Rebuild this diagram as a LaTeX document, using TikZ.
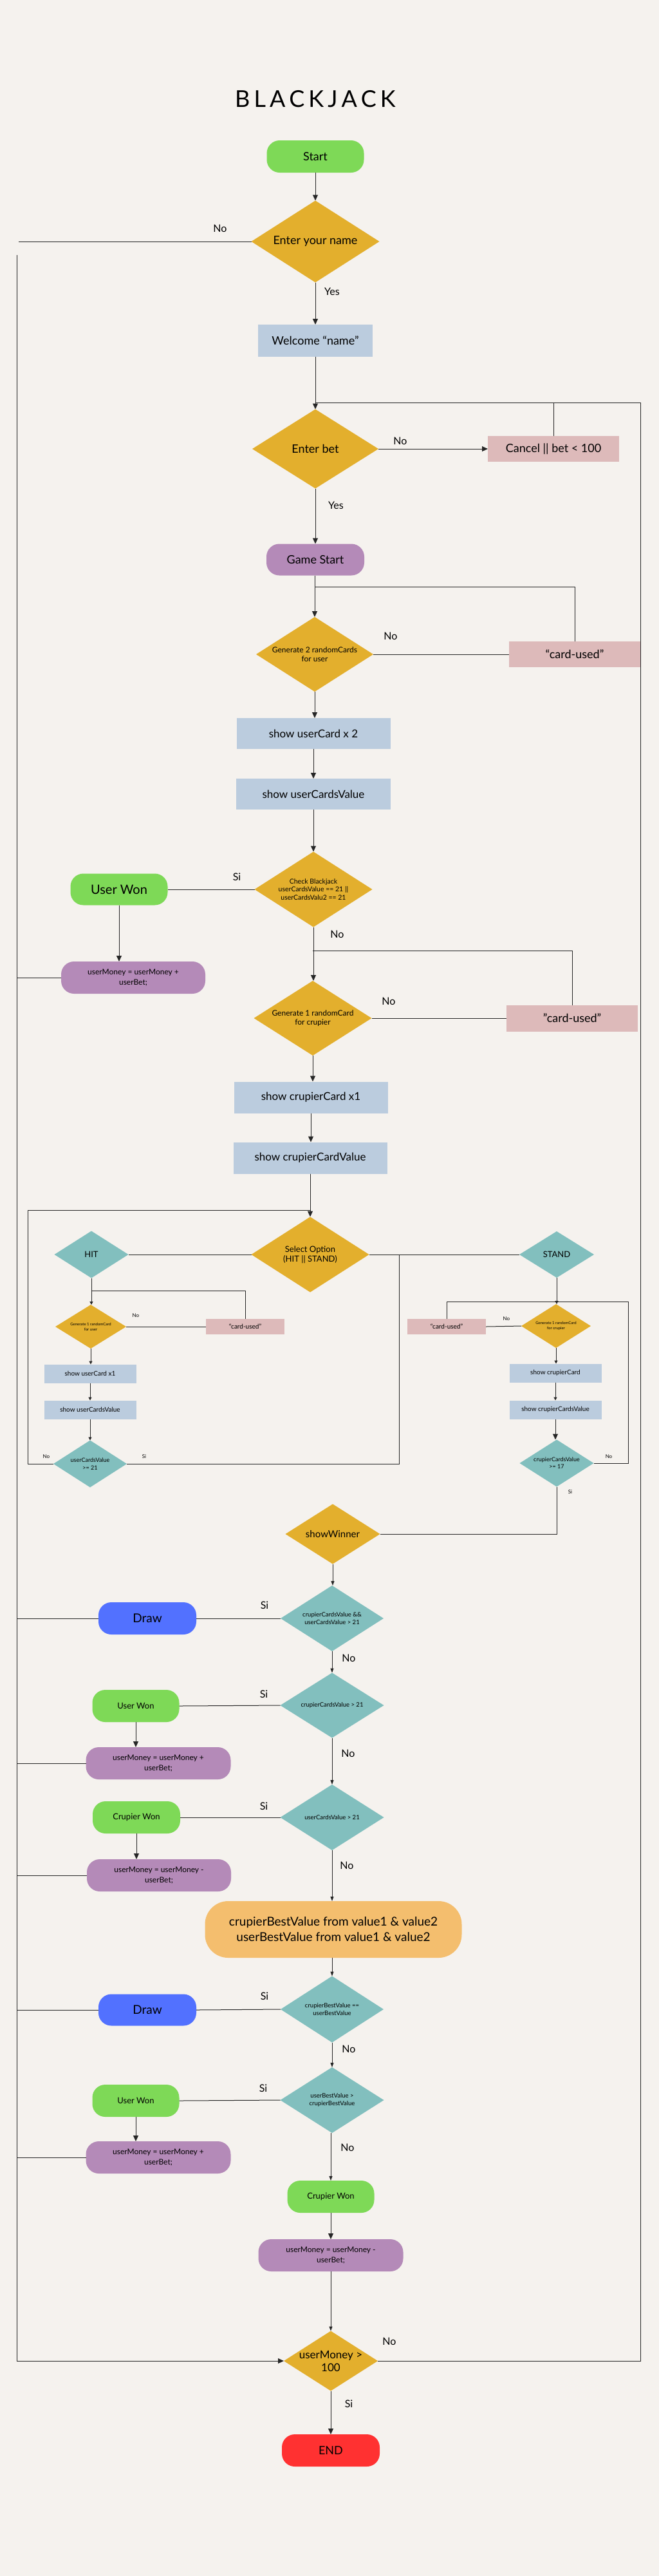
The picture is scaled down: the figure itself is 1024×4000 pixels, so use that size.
\documentclass[tikz,border=0pt]{standalone}
\usepackage{fontspec}
\setmainfont{Lato}
\usetikzlibrary{shapes.geometric,arrows.meta}
\definecolor{bgc}{HTML}{F5F2EE}
\definecolor{ylw}{HTML}{E3AF2D}
\definecolor{grn}{HTML}{7ED957}
\definecolor{lblue}{HTML}{BBCCDE}
\definecolor{pnk}{HTML}{DDBABA}
\definecolor{prp}{HTML}{B48AB8}
\definecolor{tea}{HTML}{82BFBE}
\definecolor{drw}{HTML}{5271FF}
\definecolor{org}{HTML}{F4BE6E}
\definecolor{rd}{HTML}{FF3131}
\begin{document}
\begin{tikzpicture}[x=1pt,y=-1pt,
 fz/.style args={#1/#2}{font=\fontsize{#1}{#2}\selectfont},
 dia/.style={diamond, draw=none, inner sep=0pt, outer sep=0pt},
 box/.style={rectangle, inner sep=0pt, outer sep=0pt, align=center, fill=lblue},
 stad/.style={rectangle, rounded corners=20pt, inner sep=0pt, outer sep=0pt, align=center},
 txt/.style={inner sep=0pt, align=center, text=black},
 ln/.style={line width=1pt, draw=black!85},
 arr/.style={ln, -{Triangle[width=8pt,length=9pt]}},
 arrm/.style={ln, -{Triangle[width=5pt,length=7pt]}},
 arrs/.style={ln, -{Triangle[width=5pt,length=5pt]}},
 lbl/.style={fz=16/19, inner sep=0pt},
 lbls/.style={fz=8/10, inner sep=0pt},
 wh/.style args={#1/#2}{minimum width=#1pt, minimum height=#2pt},
]
\fill[bgc] (0,0) rectangle (1024,4000);
\node[fz=36/40] (title) at (490,154) {B\kern6pt L\kern6pt A\kern6pt C\kern6pt K\kern6pt J\kern6pt A\kern6pt C\kern6pt K};

% ---------- top column ----------
\node[stad, fill=grn, wh=151/50, fz=18/22] (start) at (490,243) {Start};
\node[dia, fill=ylw, wh=199/127] (name) at (490,375) {};
\node[txt, fz=18/22] (name-t) at (name) {Enter your name};
\node[box, wh=178/50, fz=18/22] (welcome) at (490,529) {Welcome “name”};
\node[dia, fill=ylw, wh=196/123] (bet) at (490,697) {};
\node[txt, fz=18/22] (bet-t) at (bet) {Enter bet};
\node[box, fill=pnk, wh=204/40, fz=18/22] (cancel) at (860,697) {Cancel || bet < 100};
\node[stad, fill=prp, wh=152/49, fz=18/22] (gstart) at (490,869) {Game Start};
\node[dia, fill=ylw, wh=182/116] (gen2) at (489,1016) {};
\node[txt, fz=12/14] (gen2-t) at (gen2) {Generate 2 randomCards\\for user};
\node[box, fill=pnk, wh=204/40, fz=18/22] (used1) at (893,1016) {“card-used”};
\node[box, wh=239/48, fz=17/20] (suc2) at (487,1139) {show userCard x 2};
\node[box, wh=240/48, fz=17/20] (suv) at (487,1233) {show userCardsValue};
\node[dia, fill=ylw, wh=183/117] (chk) at (487,1381) {};
\node[txt, fz=10.5/12.5] (chk-t) at (chk) {Check Blackjack\\userCardsValue == 21 ||\\userCardsValu2 == 21};
\node[stad, fill=grn, wh=151/49, fz=20/24] (uw1) at (185,1381) {User Won};
\node[stad, fill=prp, wh=224/50, fz=12/16] (um1) at (207,1518) {userMoney = userMoney +\\userBet;};
\node[dia, fill=ylw, wh=183/116] (gen1c) at (486,1581) {};
\node[txt, fz=12/14] (gen1c-t) at (gen1c) {Generate 1 randomCard\\for crupier};
\node[box, fill=pnk, wh=204/41, fz=18/22] (used2) at (889,1581) {"card-used"};
\node[box, wh=239/49, fz=17/20] (scc) at (483,1704) {show crupierCard x1};
\node[box, wh=239/49, fz=17/20] (sccv) at (482,1798) {show crupierCardValue};
\node[dia, fill=ylw, wh=183/117] (sel) at (482,1948) {};
\node[txt, fz=13/15] (sel-t) at (sel) {Select Option\\(HIT || STAND)};

% ---------- HIT branch ----------
\node[dia, fill=tea, wh=115/73] (hit) at (142,1948) {};
\node[txt, fz=13/15] (hit-t) at (hit) {HIT};
\node[dia, fill=ylw, wh=110/68] (gen1u) at (141,2060) {};
\node[txt, fz=6/8] (gen1u-t) at (gen1u) {Generate 1 randomCard\\for user};
\node[box, fill=pnk, wh=122/24, fz=10/12] (used3) at (381,2060) {“card-used”};
\node[box, wh=143/29, fz=10/12] (suc1) at (140,2133) {show userCard x1};
\node[box, wh=143/29, fz=10/12] (suv2) at (140,2189) {show userCardsValue};
\node[dia, fill=tea, wh=114/73] (ucv) at (140,2273) {};
\node[txt, fz=9/11.5] (ucv-t) at (ucv) {userCardsValue\\>= 21};

% ---------- STAND branch ----------
\node[dia, fill=tea, wh=116/72] (stand) at (865,1948) {};
\node[txt, fz=13/15] (stand-t) at (stand) {STAND};
\node[dia, fill=ylw, wh=108/68] (gen1c2) at (864,2059) {};
\node[txt, fz=6/8] (gen1c2-t) at (gen1c2) {Generate 1 randomCard\\for crupier};
\node[box, fill=pnk, wh=122/24, fz=10/12] (used4) at (694,2060) {“card-used”};
\node[box, wh=143/29, fz=10/12] (scc2) at (863,2132) {show crupierCard};
\node[box, wh=143/29, fz=10/12] (sccv2) at (863,2189) {show crupierCardsValue};
\node[dia, fill=tea, wh=115/73] (ccv) at (865,2272) {};
\node[txt, fz=9/11] (ccv-t) at (ccv) {crupierCardsValue\\>= 17};

% ---------- winner checks ----------
\node[dia, fill=ylw, wh=147/93] (win) at (517,2382) {};
\node[txt, fz=15/18] (win-t) at (win) {showWinner};
\node[dia, fill=tea, wh=160/102] (q1) at (516,2513) {};
\node[txt, fz=9.5/11.5] (q1-t) at (q1) {crupierCardsValue \&\&\\userCardsValue > 21};
\node[stad, fill=drw, wh=152/50, fz=19/23] (draw1) at (229,2513) {Draw};
\node[dia, fill=tea, wh=161/101] (q2) at (516,2648) {};
\node[txt, fz=9.5/11.5] (q2-t) at (q2) {crupierCardsValue > 21};
\node[stad, fill=grn, wh=135/50, fz=13/16] (uw2) at (211,2649) {User Won};
\node[stad, fill=prp, wh=225/50, fz=12/16] (um2) at (246,2738) {userMoney = userMoney +\\userBet;};
\node[dia, fill=tea, wh=161/102] (q3) at (516,2822) {};
\node[txt, fz=9.5/11.5] (q3-t) at (q3) {userCardsValue > 21};
\node[stad, fill=grn, wh=136/50, fz=13/16] (cw1) at (212,2822) {Crupier Won};
\node[stad, fill=prp, wh=224/50, fz=12/16] (um3) at (247,2912) {userMoney = userMoney -\\userBet;};
\node[stad, fill=org, wh=399/88, rounded corners=36pt, fz=19/24] (best) at (518,2996) {crupierBestValue from value1 \& value2\\userBestValue from value1 \& value2};
\node[dia, fill=tea, wh=160/103] (q4) at (516,3120) {};
\node[txt, fz=9.5/11.5] (q4-t) at (q4) {crupierBestValue ==\\userBestValue};
\node[stad, fill=drw, wh=152/49, fz=19/23] (draw2) at (229,3121) {Draw};
\node[dia, fill=tea, wh=161/102] (q5) at (516,3261) {};
\node[txt, fz=9.5/11.5] (q5-t) at (q5) {userBestValue >\\crupierBestValue};
\node[stad, fill=grn, wh=135/50, fz=13/16] (uw3) at (211,3262) {User Won};
\node[stad, fill=prp, wh=225/50, fz=12/16] (um4) at (246,3350) {userMoney = userMoney +\\userBet;};
\node[stad, fill=grn, wh=135/50, fz=13/16] (cw2) at (514,3411) {Crupier Won};
\node[stad, fill=prp, wh=225/50, fz=12/16] (um5) at (514,3502) {userMoney = userMoney -\\userBet;};
\node[dia, fill=ylw, wh=146/93] (money) at (514,3666) {};
\node[txt, fz=17/20] (money-t) at (money) {userMoney >\\100};
\node[stad, fill=rd, wh=152/50, fz=18/22] (end) at (514,3805) {END};

% ---------- coordinates ----------
\coordinate (nameNo) at (29,375);
\coordinate (spTop) at (26,396);
\coordinate (spBot) at (26,3666);
\coordinate (rB) at (995,3666);
\coordinate (rT) at (995,625);
\coordinate (betIn) at (490,625);
\coordinate (j1) at (489,911);
\coordinate (j2) at (486,1476);
\coordinate (hl1) at (43,2273);
\coordinate (hl2) at (43,1879);
\coordinate (hl3) at (482,1879);
\coordinate (j3) at (142,2004);
\coordinate (sl1) at (620,2273);
\coordinate (sl2) at (620,1948);
\coordinate (j4) at (865,2021);
\coordinate (cl1) at (976,2272);
\coordinate (cl2) at (976,2021);
\coordinate (w1) at (865,2382);

% ---------- connectors ----------
\draw[ln] (name.west) -- (nameNo);
\draw[arr] (spTop) -- (spBot) -- (money.west);
\draw[ln] (money.east) -- (rB) -- (rT) -- (betIn);
\draw[arr] (start.south) -- (name.north);
\draw[arr] (name.south) -- (welcome.north);
\draw[arr] (welcome.south) -- (bet.north);
\draw[ln] (cancel.north) -- (cancel.north |- betIn);
\draw[arr] (bet.east) -- (cancel.west);
\draw[arr] (bet.south) -- (gstart.north);
\draw[arr] (gstart.south -| gen2.north) -- (gen2.north);
\draw[ln] (used1.north) |- (j1);
\draw[ln] (gen2.east) -- (used1.west);
\draw[arr] (gen2.south) -- (gen2.south |- suc2.north);
\draw[arr] (suc2.south) -- (suv.north);
\draw[arr] (suv.south) -- (chk.north);
\draw[ln] (chk.west) -- (uw1.east);
\draw[arr] (uw1.south) -- (uw1.south |- um1.north);
\draw[ln] (um1.west) -- (um1.west -| spTop);
\draw[arr] (chk.south) -- (chk.south |- gen1c.north);
\draw[ln] (used2.north) |- (j2);
\draw[ln] (gen1c.east) -- (used2.west);
\draw[arr] (gen1c.south) -- (gen1c.south |- scc.north);
\draw[arr] (scc.south) -- (scc.south |- sccv.north);
\draw[arr] (sccv.south) -- (sel.north);
\draw[ln] (ucv.west) -- (hl1) -- (hl2) -- (hl3);
\draw[ln] (sel.west) -- (hit.east);
\draw[ln] (sel.east) -- (stand.west);
\draw[arrs] (hit.south) -- (hit.south |- gen1u.north);
\draw[ln] (used3.north) |- (j3);
\draw[ln] (gen1u.east) -- (used3.west);
\draw[arrs] (gen1u.south) -- (gen1u.south |- suc1.north);
\draw[arrs] (suc1.south) -- (suv2.north);
\draw[arrs] (suv2.south) -- (ucv.north);
\draw[ln] (ucv.east) -- (sl1) -- (sl2);
\draw[arrs] (stand.south) -- (stand.south |- gen1c2.north);
\draw[ln] (used4.north) |- (j4);
\draw[ln] (ccv.east) -- (cl1) -- (cl2) -- (j4);
\draw[ln] (gen1c2.west) -- (used4.east);
\draw[arrs] (gen1c2.south) -- (gen1c2.south |- scc2.north);
\draw[arrs] (scc2.south) -- (sccv2.north);
\draw[arr] (sccv2.south) -- (sccv2.south |- ccv.north);
\draw[ln] (ccv.south) -- (w1) -- (win.east);
\draw[arrm] (win.south) -- (win.south |- q1.north);
\draw[ln] (q1.west) -- (draw1.east);
\draw[ln] (draw1.west) -- (draw1.west -| spTop);
\draw[arrm] (q1.south) -- (q2.north);
\draw[ln] (q2.west) -- (uw2.east);
\draw[arr] (uw2.south) -- (uw2.south |- um2.north);
\draw[ln] (um2.west) -- (um2.west -| spTop);
\draw[arrm] (q2.south) -- (q3.north);
\draw[ln] (q3.west) -- (cw1.east);
\draw[arr] (cw1.south) -- (cw1.south |- um3.north);
\draw[ln] (um3.west) -- (um3.west -| spTop);
\draw[arrm] (q3.south) -- (q3.south |- best.north);
\draw[arrm] (best.south -| q4.north) -- (q4.north);
\draw[ln] (q4.west) -- (draw2.east);
\draw[ln] (draw2.west) -- (draw2.west -| spTop);
\draw[arrm] (q4.south) -- (q5.north);
\draw[ln] (q5.west) -- (uw3.east);
\draw[arr] (uw3.south) -- (uw3.south |- um4.north);
\draw[ln] (um4.west) -- (um4.west -| spTop);
\draw[arrm] (q5.south -| cw2.north) -- (cw2.north);
\draw[arr] (cw2.south) -- (um5.north);
\draw[arrm] (um5.south) -- (money.north);
\draw[arr] (money.south) -- (end.north);

% ---------- labels ----------
\node[lbl] (l1) at (342,355) {No};
\node[lbl] (l2) at (516,453) {Yes};
\node[lbl] (l3) at (622,685) {No};
\node[lbl] (l4) at (522,785) {Yes};
\node[lbl] (l5) at (607,988) {No};
\node[lbl] (l6) at (368,1362) {Si};
\node[lbl] (l7) at (524,1451) {No};
\node[lbl] (l8) at (604,1555) {No};
\node[lbls] (l9) at (211,2043) {No};
\node[lbls] (l10) at (72,2262) {No};
\node[lbls] (l11) at (224,2262) {Si};
\node[lbls] (l12) at (787,2048) {No};
\node[lbls] (l13) at (946,2262) {No};
\node[lbls] (l14) at (886,2317) {Si};
\node[lbl] (l15) at (411,2493) {Si};
\node[lbl] (l16) at (542,2575) {No};
\node[lbl] (l17) at (410,2631) {Si};
\node[lbl] (l18) at (541,2723) {No};
\node[lbl] (l19) at (410,2805) {Si};
\node[lbl] (l20) at (539,2897) {No};
\node[lbl] (l21) at (411,3100) {Si};
\node[lbl] (l22) at (542,3182) {No};
\node[lbl] (l23) at (409,3243) {Si};
\node[lbl] (l24) at (540,3335) {No};
\node[lbl] (l25) at (605,3636) {No};
\node[lbl] (l26) at (542,3733) {Si};
\end{tikzpicture}
\end{document}
